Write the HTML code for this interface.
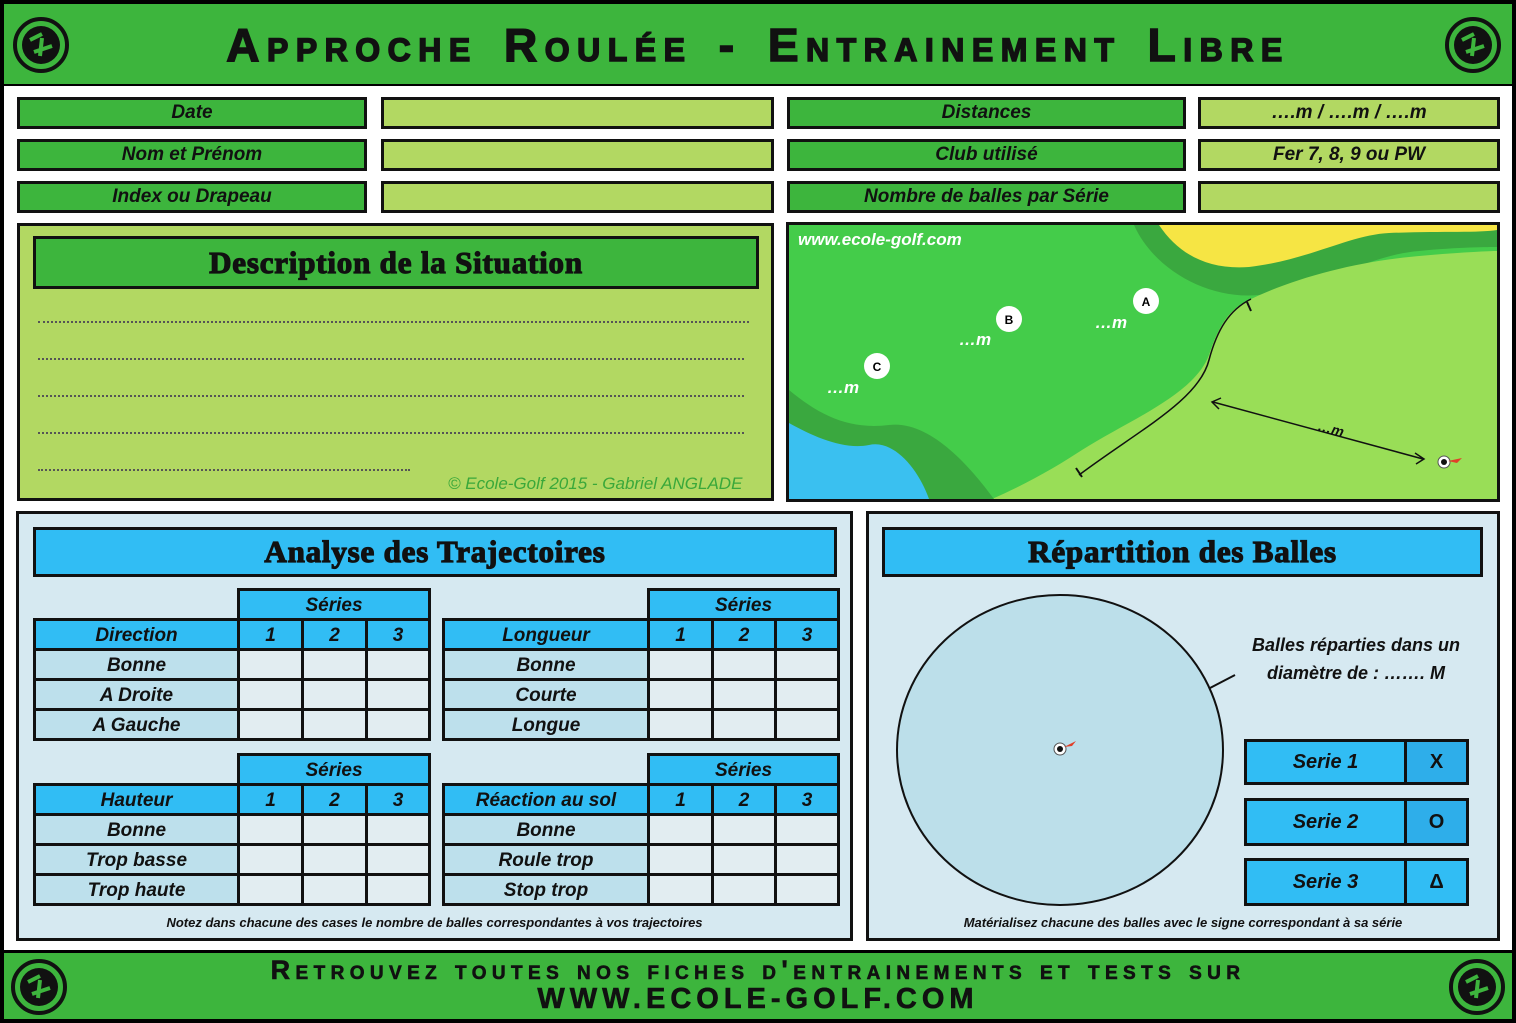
<!DOCTYPE html>
<html><head><meta charset="utf-8"><style>
*{margin:0;padding:0;box-sizing:border-box}
body{width:1516px;height:1023px;position:relative;background:#000;font-family:"Liberation Sans",sans-serif;overflow:hidden}
.a{position:absolute}
.box{position:absolute;border:3px solid #111;display:flex;align-items:center;justify-content:center;font-weight:bold;font-style:italic;font-size:19px;color:#111}
.g{background:#3db53d}.lg{background:#b2d862}.bl{background:#31bdf4}
.ttl{font-family:"Liberation Serif",serif;font-style:normal;font-weight:900;font-size:31px;-webkit-text-stroke:1.2px #111;letter-spacing:0.8px}
table{position:absolute;border-collapse:collapse;table-layout:fixed}
td{border:3px solid #111;height:30px;text-align:center;font-weight:bold;font-style:italic;font-size:19px;color:#111;padding:2px 0 0 0}
td.e{border:none}
td.h{background:#31bdf4}
td.l{background:#bde0ec}
td.c{background:#e2edf1}
.dl{position:absolute;left:38px;border-top:2px dotted #555;height:0}
.sc{font-variant:small-caps;font-weight:bold;color:#111}
</style></head><body>
<div class="a" style="left:4px;top:4px;width:1508px;height:80px;background:#3db53d"></div>
<div class="a" style="left:4px;top:86px;width:1508px;height:864px;background:#fff"></div>
<div class="a" style="left:4px;top:953px;width:1508px;height:66px;background:#3db53d"></div>
<div class="a sc" style="left:0;top:18px;width:1516px;text-align:center;font-size:46px;letter-spacing:7.5px;word-spacing:6px;-webkit-text-stroke:1.5px #111">Approche Roulée - Entrainement Libre</div>
<div class="a sc" style="left:0;top:956px;width:1516px;text-align:center;font-size:27px;letter-spacing:5.4px;line-height:29px;-webkit-text-stroke:0.6px #111">Retrouvez toutes nos fiches d'entrainements et tests sur<br><span style="font-size:29px;font-variant:normal;letter-spacing:5px">WWW.ECOLE-GOLF.COM</span></div>
<svg class="a" style="left:12px;top:16px" width="58" height="58"><circle cx="29" cy="29" r="26" fill="none" stroke="#111" stroke-width="4"/><circle cx="29" cy="29" r="19" fill="#111"/><path d="M18 24 L30 18 M22 36 L40 30 M30 22 L28 40" stroke="#3db53d" stroke-width="4"/></svg>
<svg class="a" style="left:1444px;top:16px" width="58" height="58"><circle cx="29" cy="29" r="26" fill="none" stroke="#111" stroke-width="4"/><circle cx="29" cy="29" r="19" fill="#111"/><path d="M18 24 L30 18 M22 36 L40 30 M30 22 L28 40" stroke="#3db53d" stroke-width="4"/></svg>
<svg class="a" style="left:10px;top:958px" width="58" height="58"><circle cx="29" cy="29" r="26" fill="none" stroke="#111" stroke-width="4"/><circle cx="29" cy="29" r="19" fill="#111"/><path d="M18 24 L30 18 M22 36 L40 30 M30 22 L28 40" stroke="#3db53d" stroke-width="4"/></svg>
<svg class="a" style="left:1448px;top:958px" width="58" height="58"><circle cx="29" cy="29" r="26" fill="none" stroke="#111" stroke-width="4"/><circle cx="29" cy="29" r="19" fill="#111"/><path d="M18 24 L30 18 M22 36 L40 30 M30 22 L28 40" stroke="#3db53d" stroke-width="4"/></svg>

<div class="box g" style="left:17px;top:97px;width:350px;height:32px">Date</div>
<div class="box lg" style="left:381px;top:97px;width:393px;height:32px"></div>
<div class="box g" style="left:787px;top:97px;width:399px;height:32px">Distances</div>
<div class="box lg" style="left:1198px;top:97px;width:302px;height:32px">….m / ….m / ….m</div>
<div class="box g" style="left:17px;top:139px;width:350px;height:32px">Nom et Prénom</div>
<div class="box lg" style="left:381px;top:139px;width:393px;height:32px"></div>
<div class="box g" style="left:787px;top:139px;width:399px;height:32px">Club utilisé</div>
<div class="box lg" style="left:1198px;top:139px;width:302px;height:32px">Fer 7, 8, 9 ou PW</div>
<div class="box g" style="left:17px;top:181px;width:350px;height:32px">Index ou Drapeau</div>
<div class="box lg" style="left:381px;top:181px;width:393px;height:32px"></div>
<div class="box g" style="left:787px;top:181px;width:399px;height:32px">Nombre de balles par Série</div>
<div class="box lg" style="left:1198px;top:181px;width:302px;height:32px"></div>

<div class="box lg" style="left:17px;top:223px;width:757px;height:278px"></div>
<div class="box g ttl" style="left:33px;top:236px;width:726px;height:53px">Description de la Situation</div>
<div class="dl" style="top:321px;width:711px"></div>
<div class="dl" style="top:358px;width:706px"></div>
<div class="dl" style="top:395px;width:706px"></div>
<div class="dl" style="top:432px;width:706px"></div>
<div class="dl" style="top:469px;width:372px"></div>
<div class="a" style="left:448px;top:474px;font-size:17px;font-style:italic;color:#3aa83a">© Ecole-Golf  2015 - Gabriel ANGLADE</div>

<div class="a" style="left:786px;top:222px;width:714px;height:280px;border:3px solid #111;background:#44cc4a;overflow:hidden">
<svg width="708" height="274" style="position:absolute;left:0;top:0">
<path d="M345 0 C365 45 420 75 470 70 C540 60 580 30 630 26 C670 22 700 22 708 22 L708 0 Z" fill="#3aa83f"/>
<path d="M370 0 C390 30 420 45 460 42 C520 35 560 10 600 8 C650 6 690 8 708 5 L708 0 Z" fill="#f6e544"/>
<path d="M458 76 C500 55 560 38 620 32 C660 28 700 26 708 26 L708 274 L203 274 C240 258 270 240 293 225 C340 195 405 170 420 130 C430 100 440 85 458 76Z" fill="#99de57"/>
<path d="M0 165 C30 190 60 205 100 200 C140 195 180 240 205 274 L0 274 Z" fill="#3aa83f"/>
<path d="M0 198 C25 212 55 225 80 220 C105 214 130 245 140 274 L0 274 Z" fill="#3ac0f0"/>
<path d="M462 74 C440 85 428 105 420 135 C410 175 350 205 290 250" fill="none" stroke="#111" stroke-width="1.5"/>
<line x1="458" y1="77" x2="462" y2="86" stroke="#111" stroke-width="2"/>
<line x1="287" y1="243" x2="293" y2="252" stroke="#111" stroke-width="2"/>
<line x1="424" y1="177" x2="634" y2="234" stroke="#111" stroke-width="1.5"/>
<path d="M432 173 L423 177 L430 184" fill="none" stroke="#111" stroke-width="1.5"/>
<path d="M626 228 L635 234 L627 239" fill="none" stroke="#111" stroke-width="1.5"/>
<circle cx="655" cy="237" r="6" fill="#fff" stroke="#555"/><circle cx="655" cy="237" r="3" fill="#111"/>
<path d="M659 236 L673 233 L668 238 Z" fill="#e0402a"/>
<circle cx="357" cy="76" r="13" fill="#fff"/><text x="357" y="81" font-size="12" font-weight="bold" text-anchor="middle" font-family="Liberation Sans">A</text>
<circle cx="220" cy="94" r="13" fill="#fff"/><text x="220" y="99" font-size="12" font-weight="bold" text-anchor="middle" font-family="Liberation Sans">B</text>
<circle cx="88" cy="141" r="13" fill="#fff"/><text x="88" y="146" font-size="12" font-weight="bold" text-anchor="middle" font-family="Liberation Sans">C</text>
<g font-family="Liberation Sans" font-style="italic" font-weight="bold" font-size="17" fill="#fff">
<text x="306" y="103">…m</text><text x="170" y="120">…m</text><text x="38" y="168">…m</text>
<text x="9" y="20" font-size="17">www.ecole-golf.com</text></g>
<text x="528" y="205" font-family="Liberation Sans" font-style="italic" font-weight="bold" font-size="14" fill="#111" transform="rotate(15 528 205)">…m</text>
</svg></div>

<div class="a" style="left:16px;top:511px;width:837px;height:430px;border:3px solid #111;background:#d6e9f1"></div>
<div class="box bl ttl" style="left:33px;top:527px;width:804px;height:50px">Analyse des Trajectoires</div>

<table style="left:33px;top:588px;width:395px">
<colgroup><col style="width:204px"><col style="width:64px"><col style="width:64px"><col style="width:63px"></colgroup>
<tr><td class="e"></td><td class="h" colspan="3">Séries</td></tr>
<tr><td class="h">Direction</td><td class="h">1</td><td class="h">2</td><td class="h">3</td></tr>
<tr><td class="l">Bonne</td><td class="c"></td><td class="c"></td><td class="c"></td></tr>
<tr><td class="l">A Droite</td><td class="c"></td><td class="c"></td><td class="c"></td></tr>
<tr><td class="l">A Gauche</td><td class="c"></td><td class="c"></td><td class="c"></td></tr>
</table>
<table style="left:442px;top:588px;width:395px">
<colgroup><col style="width:205px"><col style="width:64px"><col style="width:63px"><col style="width:63px"></colgroup>
<tr><td class="e"></td><td class="h" colspan="3">Séries</td></tr>
<tr><td class="h">Longueur</td><td class="h">1</td><td class="h">2</td><td class="h">3</td></tr>
<tr><td class="l">Bonne</td><td class="c"></td><td class="c"></td><td class="c"></td></tr>
<tr><td class="l">Courte</td><td class="c"></td><td class="c"></td><td class="c"></td></tr>
<tr><td class="l">Longue</td><td class="c"></td><td class="c"></td><td class="c"></td></tr>
</table>
<table style="left:33px;top:753px;width:395px">
<colgroup><col style="width:204px"><col style="width:64px"><col style="width:64px"><col style="width:63px"></colgroup>
<tr><td class="e"></td><td class="h" colspan="3">Séries</td></tr>
<tr><td class="h">Hauteur</td><td class="h">1</td><td class="h">2</td><td class="h">3</td></tr>
<tr><td class="l">Bonne</td><td class="c"></td><td class="c"></td><td class="c"></td></tr>
<tr><td class="l">Trop basse</td><td class="c"></td><td class="c"></td><td class="c"></td></tr>
<tr><td class="l">Trop haute</td><td class="c"></td><td class="c"></td><td class="c"></td></tr>
</table>
<table style="left:442px;top:753px;width:395px">
<colgroup><col style="width:205px"><col style="width:64px"><col style="width:63px"><col style="width:63px"></colgroup>
<tr><td class="e"></td><td class="h" colspan="3">Séries</td></tr>
<tr><td class="h">Réaction au sol</td><td class="h">1</td><td class="h">2</td><td class="h">3</td></tr>
<tr><td class="l">Bonne</td><td class="c"></td><td class="c"></td><td class="c"></td></tr>
<tr><td class="l">Roule trop</td><td class="c"></td><td class="c"></td><td class="c"></td></tr>
<tr><td class="l">Stop trop</td><td class="c"></td><td class="c"></td><td class="c"></td></tr>
</table>
<div class="a" style="left:17px;top:915px;width:835px;text-align:center;font-size:13px;font-style:italic;font-weight:bold;color:#111">Notez dans chacune des cases le nombre de balles correspondantes à vos trajectoires</div>

<div class="a" style="left:866px;top:511px;width:634px;height:430px;border:3px solid #111;background:#d6e9f1"></div>
<div class="box bl ttl" style="left:882px;top:527px;width:601px;height:50px">Répartition des Balles</div>
<svg class="a" style="left:880px;top:580px" width="360" height="340">
<ellipse cx="180" cy="170" rx="163" ry="155" fill="#bcdfea" stroke="#111" stroke-width="2"/>
<line x1="330" y1="108" x2="355" y2="95" stroke="#111" stroke-width="2"/>
<circle cx="180" cy="169" r="6" fill="#fff" stroke="#555"/><circle cx="180" cy="169" r="3" fill="#111"/>
<path d="M184 167 L196 161 L192 166 Z" fill="#e0402a"/>
</svg>
<div class="a" style="left:1236px;top:631px;width:240px;text-align:center;font-size:18px;font-style:italic;font-weight:bold;color:#111;line-height:28px">Balles réparties dans un<br>diamètre de : ……. M</div>
<div class="box bl" style="left:1244px;top:739px;width:163px;height:46px;font-size:20px">Serie 1</div>
<div class="box bl" style="left:1404px;top:739px;width:65px;height:46px;font-size:20px;font-style:normal;background:#2eaeea">X</div>
<div class="box bl" style="left:1244px;top:798px;width:163px;height:48px;font-size:20px">Serie 2</div>
<div class="box bl" style="left:1404px;top:798px;width:65px;height:48px;font-size:20px;font-style:normal;background:#2eaeea">O</div>
<div class="box bl" style="left:1244px;top:858px;width:163px;height:48px;font-size:20px">Serie 3</div>
<div class="box bl" style="left:1404px;top:858px;width:65px;height:48px;font-size:20px;font-style:normal">Δ</div>
<div class="a" style="left:867px;top:915px;width:632px;text-align:center;font-size:13px;font-style:italic;font-weight:bold;color:#111">Matérialisez chacune des balles avec le signe correspondant à sa série</div>
</body></html>
